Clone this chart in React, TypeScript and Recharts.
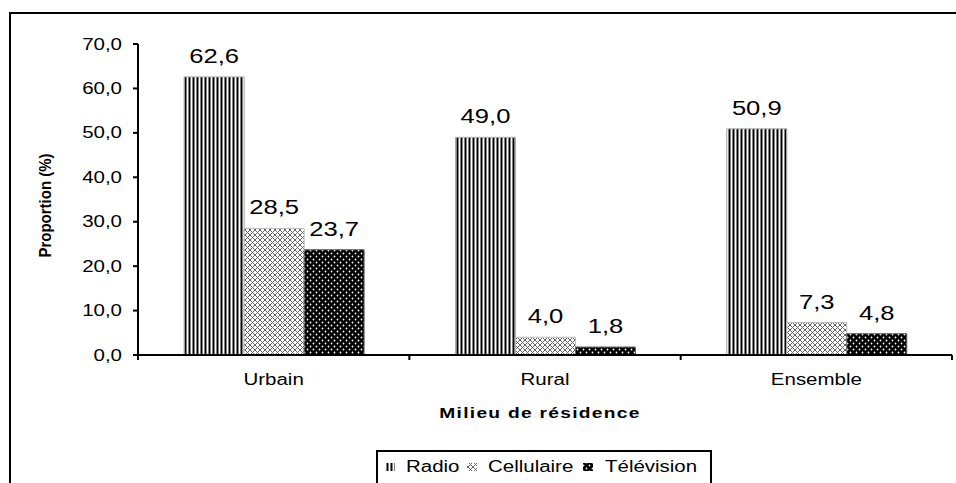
import { BarChart, Bar, XAxis, YAxis, LabelList } from 'recharts';

const categories = ['Urbain', 'Rural', 'Ensemble'];
const radio = [62.6, 49.0, 50.9];
const cellulaire = [28.5, 4.0, 7.3];
const television = [23.7, 1.8, 4.8];
const yTicks = [0, 10, 20, 30, 40, 50, 60, 70];
const seriesNames = ['Radio', 'Cellulaire', 'Télévision'];

const data = categories.map((cat, i) => ({
  cat,
  radio: radio[i],
  cellulaire: cellulaire[i],
  television: television[i],
}));

// the source picture is stretched sideways, so text is too
const SX = 1.28;
const FONT = '"Liberation Sans", Arial, sans-serif';
const fmt = (v: number) => Number(v).toFixed(1).replace('.', ',');

function SText({ x, y, size, anchor, bold, spacing, children }: any) {
  return (
    <text
      transform={`translate(${x},${y}) scale(${SX},1)`}
      textAnchor={anchor}
      fontSize={size}
      fontFamily={FONT}
      fontWeight={bold ? 'bold' : 'normal'}
      letterSpacing={spacing}
      fill="#000"
    >
      {children}
    </text>
  );
}

function YTick({ x, y, payload }: any) {
  return <SText x={x} y={y + 5.5} anchor="end" size={16}>{fmt(payload.value)}</SText>;
}

function XTick({ x, y, payload, index }: any) {
  const half = payload.offset ?? 135.7;
  const last = index === categories.length - 1;
  return (
    <g>
      <line x1={x - half} x2={x - half} y1={y - 5} y2={y} stroke="#000" strokeWidth={2} />
      {last && <line x1={x + half} x2={x + half} y1={y - 5} y2={y} stroke="#000" strokeWidth={2} />}
      <SText x={x} y={y + 25} anchor="middle" size={16}>{payload.value}</SText>
    </g>
  );
}

function ValueLabel({ x, y, width, value }: any) {
  return (
    <SText x={Number(x) + Number(width) / 2} y={Number(y) - 14} anchor="middle" size={20}>
      {fmt(value)}
    </SText>
  );
}

function YTitle({ viewBox }: any) {
  const cx = viewBox.x + 23;
  const cy = viewBox.y + viewBox.height / 2 + 6;
  return (
    <text
      transform={`translate(${cx},${cy}) rotate(-90) scale(1,1.15)`}
      textAnchor="middle"
      fontSize={15}
      fontWeight="bold"
      fontFamily={FONT}
      fill="#000"
    >
      Proportion (%)
    </text>
  );
}

function XTitle({ viewBox }: any) {
  return (
    <SText x={viewBox.x + viewBox.width / 2 - 5} y={viewBox.y + 63} anchor="middle" size={15} bold spacing={1}>
      Milieu de résidence
    </SText>
  );
}

const fills = ['url(#pRadio)', 'url(#pCell)', 'url(#pTv)'];

function Legend() {
  const iconX = [7, 89, 205];
  const textX = [28, 110, 227];
  return (
    <div
      style={{
        position: 'absolute', left: 376, top: 450, width: 336, height: 60,
        border: '2px solid #000', boxSizing: 'border-box', background: '#fff',
      }}
    >
      <svg width={332} height={56}>
        {seriesNames.map((n, i) => (
          <g key={n}>
            <rect x={iconX[i]} y={11} width={10} height={8} fill={fills[i]} />
            <SText x={textX[i]} y={20} anchor="start" size={16}>{n}</SText>
          </g>
        ))}
      </svg>
    </div>
  );
}

export default function App() {
  return (
    <div style={{ position: 'fixed', left: 0, top: 0, width: 956, height: 483, overflow: 'hidden', background: '#fff' }}>
      <svg width={0} height={0} style={{ position: 'absolute' }}>
        <defs>
          <pattern id="pRadio" patternUnits="userSpaceOnUse" width={4} height={4}>
            <rect width={4} height={4} fill="#fff" />
            <rect x={0.5} width={2} height={4} fill="#000" />
          </pattern>
          <pattern id="pCell" patternUnits="userSpaceOnUse" width={5} height={5}>
            <rect width={5} height={5} fill="#fff" />
            <path d="M0,0 L5,5 M5,0 L0,5" stroke="#666" strokeWidth={1} />
          </pattern>
          <pattern id="pTv" patternUnits="userSpaceOnUse" width={6} height={6}>
            <rect width={6} height={6} fill="#000" />
            <circle cx={1.5} cy={1.5} r={0.9} fill="#fff" />
            <circle cx={4.5} cy={4.5} r={0.9} fill="#fff" />
          </pattern>
        </defs>
      </svg>
      <div
        style={{
          position: 'absolute', left: 9, top: 12, width: 1000, height: 600,
          border: '2px solid #000', boxSizing: 'border-box',
        }}
      />
      <div style={{ position: 'absolute', left: 0, top: 0 }}>
        <BarChart
          width={956}
          height={483}
          data={data}
          margin={{ top: 44, right: 4, left: 28, bottom: 98 }}
          barGap={0}
          barCategoryGap="17%"
        >
          <XAxis
            dataKey="cat"
            axisLine={{ stroke: '#000', strokeWidth: 2 }}
            tickLine={false}
            tickSize={5}
            tickMargin={0}
            height={30}
            interval={0}
            tick={<XTick />}
            label={{ content: <XTitle /> }}
          />
          <YAxis
            domain={[0, 70]}
            ticks={yTicks}
            interval={0}
            width={110}
            axisLine={{ stroke: '#000', strokeWidth: 2 }}
            tickLine={{ stroke: '#000', strokeWidth: 2 }}
            tickSize={5}
            tickMargin={11}
            tick={<YTick />}
            label={{ content: <YTitle /> }}
          />
          <Bar dataKey="radio" name={seriesNames[0]} fill={fills[0]} stroke="#aaa" strokeWidth={1} isAnimationActive={false}>
            <LabelList dataKey="radio" content={<ValueLabel />} />
          </Bar>
          <Bar dataKey="cellulaire" name={seriesNames[1]} fill={fills[1]} stroke="#bbb" strokeWidth={1} isAnimationActive={false}>
            <LabelList dataKey="cellulaire" content={<ValueLabel />} />
          </Bar>
          <Bar dataKey="television" name={seriesNames[2]} fill={fills[2]} stroke="#666" strokeWidth={1} isAnimationActive={false}>
            <LabelList dataKey="television" content={<ValueLabel />} />
          </Bar>
        </BarChart>
      </div>
      <Legend />
    </div>
  );
}
